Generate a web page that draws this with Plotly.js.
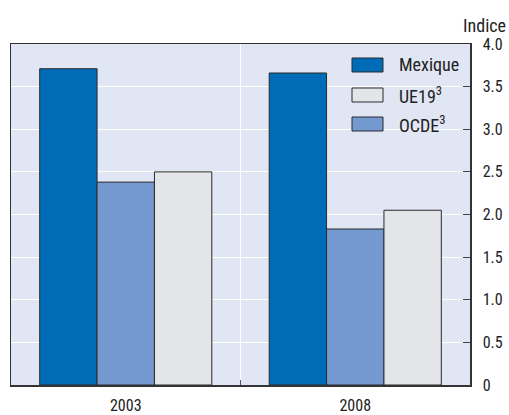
<!DOCTYPE html>
<html><head><meta charset="utf-8">
<script src="https://cdn.plot.ly/plotly-3.0.1.min.js"></script>
<style>html,body{margin:0;padding:0;background:#fff}</style>
</head><body>
<div id="chart" style="width:509px;height:415px"></div>
<script>
const years = ["2003", "2008"];
const mexique = [3.71, 3.66];
const ocde = [2.38, 1.83];
const ue19 = [2.50, 2.05];
const yTickVals = [0, 0.5, 1, 1.5, 2, 2.5, 3, 3.5, 4];
const yTickText = ["0", "0.5", "1.0", "1.5", "2.0", "2.5", "3.0", "3.5", "4.0"];
const seriesNames = {mex: "Mexique", ue: "UE19<sup>3</sup>", ocde: "OCDE<sup>3</sup>"};
const legendOrder = ["mex", "ue", "ocde"];

const FONT = "'Liberation Sans Narrow', 'Roboto Condensed', 'DejaVu Sans Condensed', Arial, sans-serif";
const COLORS = {mex: "#006bb6", ocde: "#7399d0", ue: "#e4e5e8"};
const EDGE = "#2a2a2a";
const line = {color: EDGE, width: 1};

const traces = [
  {type: "bar", name: seriesNames.mex, x: years, y: mexique, marker: {color: COLORS.mex, line: line}},
  {type: "bar", name: seriesNames.ocde, x: years, y: ocde, marker: {color: COLORS.ocde, line: line}},
  {type: "bar", name: seriesNames.ue, x: years, y: ue19, marker: {color: COLORS.ue, line: line}}
];

// Custom legend (larger swatches than Plotly's built-in legend allows)
const ML = 11, MR = 39, MT = 44, MB = 30, W = 509, H = 415;
const PW = W - ML - MR, PH = H - MT - MB;
const px2x = v => (v - ML) / PW;
const px2y = v => (H - MB - v) / PH;
const legRowsPx = [65, 95, 124];
const shapes = [], annotations = [];
legendOrder.forEach((k, i) => {
  const cy = legRowsPx[i];
  shapes.push({type: "rect", xref: "paper", yref: "paper",
    x0: px2x(352), x1: px2x(383), y0: px2y(cy + 7), y1: px2y(cy - 7),
    fillcolor: COLORS[k], line: {color: EDGE, width: 1}});
  annotations.push({text: seriesNames[k], xref: "paper", yref: "paper", x: px2x(397), y: px2y(cy),
    xanchor: "left", yanchor: "middle", showarrow: false, font: {family: FONT, size: 18, color: "#222"}});
});
annotations.push({text: "Indice", xref: "paper", yref: "paper", x: 1.083, y: 1.0, xanchor: "right", yanchor: "bottom",
  yshift: 6, showarrow: false, font: {family: FONT, size: 18, color: "#222"}});

const layout = {
  width: W, height: H,
  margin: {l: ML, r: MR, t: MT, b: MB},
  paper_bgcolor: "#ffffff",
  plot_bgcolor: "#e1e6f4",
  font: {family: FONT, size: 16, color: "#222"},
  barmode: "group",
  bargap: 0.25,
  bargroupgap: 0,
  showlegend: false,
  xaxis: {
    type: "category", tickson: "boundaries", showgrid: true, gridcolor: "#ffffff", gridwidth: 1,
    ticks: "inside", ticklen: 5, tickcolor: "#555", showline: true, mirror: true,
    linecolor: "#333", linewidth: 1.5, tickfont: {family: FONT, size: 16, color: "#222"}, zeroline: false,
    ticklabelstandoff: 5
  },
  yaxis: {
    side: "right", range: [0, 4], tickvals: yTickVals, ticktext: yTickText,
    showgrid: true, gridcolor: "#ffffff", gridwidth: 1, ticks: "inside", ticklen: 7, tickcolor: "#444",
    showline: true, mirror: true, linecolor: "#333", linewidth: 1.5, zeroline: false,
    tickfont: {family: FONT, size: 16, color: "#222"}, ticklabelstandoff: 8
  },
  shapes: shapes,
  annotations: annotations
};

Plotly.newPlot("chart", traces, layout, {displayModeBar: false, staticPlot: true});
</script>
</body></html>
